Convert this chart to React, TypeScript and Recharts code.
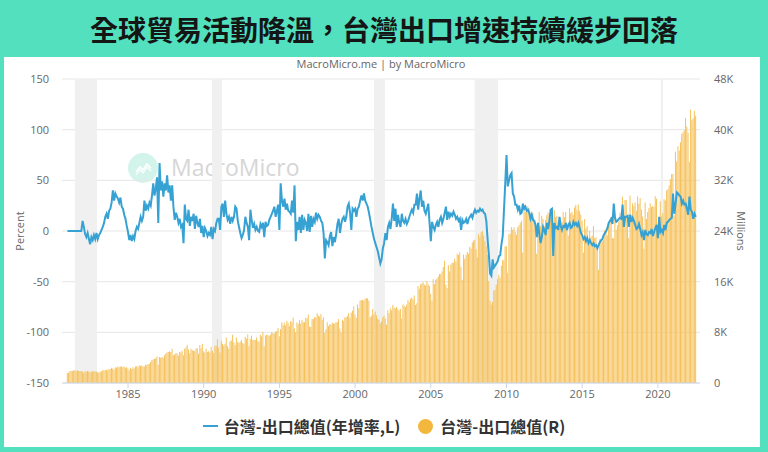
import React from 'react'
import {
  ComposedChart, Bar, Line, XAxis, YAxis, CartesianGrid, ReferenceArea,
} from 'recharts'

// monthly, first point = Jan 1981
const startYear = 1981

// 台灣-出口總值 年增率 (%), one row per year
const exportYoY: number[] = [
  0, 0, 0, 0, 0, 0, 0, 0, 0, 0, 0, 0, // 1981
  10, 4, -3, -6, -2, -8, -13, -6, -9, -4, -8, -2,
  -8, -4, -2, 1, 4, 8, 14, 17, 12, 20, 22, 28,
  40, 30, 37, 34, 32, 28, 33, 24, 22, 16, 12, 5,
  -1, -9, -4, -10, -5, -8, 0, 4, 2, 8, 14, 10, // 1985
  14, 30, 20, 25, 22, 28, 25, 35, 47, 35, 42, 53,
  8, 67, 40, 49, 34, 47, 40, 55, 38, 45, 30, 45,
  24, 11, 18, 14, 8, 12, 4, 6, -12, 26, 12, 10,
  21, 5, 14, 10, 17, 2, 15, 8, 4, 12, -2, 5,
  -6, 3, 0, -5, -2, -4, 4, -8, 2, 0, 8, 12, // 1990
  12, 1, 24, 27, 14, 30, 17, 11, 14, 7, 14, 10,
  14, 24, 22, 10, 4, -2, -7, -4, 1, 14, 8, 4,
  -9, 21, 11, 3, 7, 1, 4, 0, -1, 7, 4, 8,
  -6, 9, 5, 6, 11, 14, 17, 20, 24, 14, 20, 26,
  1, 47, 30, 24, 32, 21, 27, 20, 19, 17, 30, 18, // 1995
  45, -10, 9, 1, 14, -2, 16, 1, 11, 8, 0, 17,
  -1, 15, 4, 12, 9, 18, 12, 16, 14, 10, 8, -2,
  -27, -9, -11, -14, -5, -1, -15, -6, -11, -3, 7, 12,
  -2, 7, 12, 14, 9, 14, 24, 27, 18, 1, 22, 20,
  22, 14, 22, 24, 30, 35, 30, 37, 30, 27, 24, 18, // 2000
  11, 4, -2, -8, -12, -16, -20, -26, -32, -28, -17, -12,
  -2, -9, 4, 8, 2, 12, 27, 10, 22, 4, 16, 8,
  4, 17, 10, 8, 12, 7, 10, 14, 18, 21, 18, 26,
  26, 37, 21, 32, 40, 24, 30, 20, 17, 22, 27, 8,
  -10, 9, 4, 1, 6, 9, 4, 11, 14, 8, 12, 18, // 2005
  24, 11, 19, 14, 17, 15, 19, 16, 12, 14, 10, 12,
  1, 11, 8, 9, 12, 7, 12, 14, 16, 13, 18, 21,
  18, 20, 19, 22, 20, 21, 18, 17, 10, -8, -23, -42,
  -44, -28, -36, -34, -32, -30, -25, -24, -13, -5, 21, 47,
  75, 44, 50, 55, 57, 37, 34, 26, 26, 21, 25, 17, // 2010
  18, 27, 22, 24, 20, 21, 18, 12, 16, 11, 10, 6,
  -6, 8, -3, -12, -6, 4, 1, -4, 8, 2, 10, 21,
  22, -25, 8, 3, 4, 1, 14, 5, 1, 5, 4, 8,
  1, 6, 8, 3, 4, 9, 6, 8, 5, 8, 3, -2,
  -4, -8, -6, -10, -7, -12, -9, -12, -14, -12, -15, -14, // 2015
  -17, -14, -11, -9, -8, -4, -2, 0, 3, 8, 10, 12,
  7, 27, 13, 9, 10, 12, 13, 12, 26, 4, 14, 14,
  15, 4, 16, 9, 13, 10, 6, 2, 3, 7, 2, -4,
  -1, -9, 1, -3, -4, -1, -2, 2, -5, -1, 3, 6,
  -7, 14, -1, 1, -2, 6, 1, 8, 9, 11, 12, 13, // 2020
  37, 17, 27, 38, 37, 35, 34, 27, 30, 26, 27, 22,
  16, 34, 21, 19, 12, 17, 14, // 2022 Jan-Jul
]

// 台灣-出口總值 (K = thousand million USD), one row per year
const exportValue: number[] = [
  1.6, 1.6, 1.9, 1.9, 1.9, 2.0, 2.0, 1.9, 2.0, 1.9, 1.9, 1.9, // 1981
  1.8, 1.6, 1.8, 1.8, 1.9, 1.8, 1.7, 1.8, 1.8, 1.9, 1.8, 1.8,
  1.7, 1.6, 1.8, 1.8, 2.0, 2.0, 2.0, 2.1, 2.0, 2.2, 2.2, 2.4,
  2.3, 2.1, 2.5, 2.4, 2.6, 2.5, 2.6, 2.6, 2.5, 2.6, 2.4, 2.5,
  2.3, 2.0, 2.4, 2.2, 2.5, 2.3, 2.6, 2.7, 2.5, 2.8, 2.7, 2.8, // 1985
  2.6, 2.6, 2.9, 2.8, 3.0, 3.0, 3.3, 3.6, 3.7, 3.8, 3.9, 4.2,
  2.9, 4.1, 4.0, 4.1, 4.0, 4.4, 4.6, 4.8, 4.9, 5.0, 4.9, 5.4,
  4.4, 4.5, 4.7, 4.7, 4.3, 4.9, 4.8, 5.1, 4.4, 5.4, 5.6, 6.0,
  5.3, 4.7, 5.4, 5.2, 5.1, 5.0, 5.5, 5.5, 4.6, 6.0, 5.5, 6.2,
  5.0, 4.8, 5.4, 4.9, 5.0, 4.8, 5.7, 5.1, 4.7, 5.9, 5.9, 6.9, // 1990
  5.6, 4.8, 6.7, 6.2, 5.9, 6.2, 7.2, 5.8, 5.4, 6.6, 6.7, 7.6,
  6.4, 6.0, 7.2, 6.5, 6.3, 6.5, 6.8, 6.3, 6.2, 7.3, 7.0, 7.7,
  5.8, 7.0, 7.5, 6.8, 6.8, 6.8, 7.2, 6.6, 6.5, 7.6, 7.4, 8.1,
  5.8, 7.5, 7.6, 7.6, 7.4, 7.6, 8.0, 7.9, 7.8, 8.1, 8.2, 8.7,
  7.4, 8.5, 9.6, 9.1, 9.5, 9.1, 9.8, 9.5, 9.0, 9.8, 9.6, 10.3, // 1995
  8.6, 8.0, 9.6, 9.3, 9.9, 9.4, 10.0, 9.6, 9.6, 10.3, 10.2, 10.8,
  8.9, 8.9, 10.1, 10.1, 10.4, 10.4, 11.0, 10.6, 10.5, 10.9, 10.0, 10.4,
  7.9, 8.5, 9.6, 9.0, 9.3, 9.2, 9.5, 9.4, 9.4, 9.6, 9.6, 10.1,
  8.6, 8.0, 10.0, 9.8, 10.4, 10.4, 10.6, 11.0, 10.3, 11.1, 11.4, 12.1,
  10.8, 10.3, 12.4, 11.8, 13.0, 13.1, 13.1, 13.0, 13.3, 13.4, 13.4, 13.0, // 2000
  10.4, 10.6, 11.7, 10.8, 11.3, 10.7, 10.2, 10.0, 9.4, 9.7, 10.4, 10.6,
  10.2, 9.2, 11.5, 11.0, 11.8, 11.5, 12.3, 11.9, 11.8, 12.0, 11.7, 11.4,
  11.7, 10.2, 12.4, 12.2, 12.0, 12.4, 13.1, 12.8, 13.3, 13.5, 13.2, 13.8,
  12.3, 12.6, 15.3, 14.9, 15.6, 15.7, 15.9, 15.5, 15.4, 16.1, 15.6, 15.3,
  14.1, 13.0, 16.4, 15.6, 16.3, 16.5, 16.8, 17.2, 17.2, 17.6, 18.3, 19.3, // 2005
  15.5, 15.0, 18.6, 17.6, 18.7, 19.0, 19.0, 19.6, 19.2, 20.4, 20.2, 20.6,
  18.3, 16.3, 20.3, 19.6, 20.2, 20.7, 20.4, 21.5, 21.2, 22.2, 22.5, 22.6,
  21.1, 19.8, 23.5, 23.0, 23.8, 24.0, 23.3, 22.4, 21.6, 20.2, 16.1, 13.0,
  12.4, 12.8, 14.6, 14.7, 15.5, 16.4, 17.1, 16.6, 18.5, 19.4, 19.4, 21.6,
  21.6, 17.4, 23.5, 23.6, 24.6, 24.2, 24.6, 23.8, 23.4, 24.6, 24.9, 25.3, // 2010
  25.6, 20.6, 28.1, 27.0, 27.5, 27.9, 27.6, 26.8, 26.4, 26.8, 25.4, 25.2,
  20.4, 24.0, 27.0, 24.8, 26.4, 25.9, 24.8, 25.7, 26.5, 26.9, 25.6, 26.0,
  26.2, 19.9, 27.3, 26.2, 26.4, 25.5, 26.2, 25.8, 25.4, 27.0, 26.2, 27.0,
  24.6, 23.3, 27.6, 26.8, 27.0, 26.5, 27.7, 28.1, 27.3, 28.2, 27.1, 26.6,
  25.6, 20.6, 25.9, 24.4, 24.8, 22.6, 24.0, 23.0, 23.3, 24.8, 22.9, 23.0, // 2015
  21.4, 17.9, 22.7, 22.3, 22.4, 22.6, 24.1, 23.8, 23.3, 25.2, 25.4, 26.2,
  22.9, 22.8, 26.0, 24.2, 24.9, 25.4, 26.9, 26.3, 29.4, 26.0, 28.9, 28.9,
  26.4, 22.9, 29.6, 26.5, 28.4, 27.9, 28.5, 27.2, 29.5, 28.3, 29.2, 27.4,
  26.3, 21.2, 28.5, 25.9, 27.0, 27.6, 28.4, 27.8, 28.0, 27.8, 29.5, 29.1,
  24.1, 25.8, 28.7, 26.3, 26.8, 29.0, 28.8, 30.4, 30.6, 31.2, 32.2, 33.0, // 2020
  33.0, 26.5, 36.5, 35.0, 37.4, 36.7, 38.0, 39.3, 39.6, 39.9, 41.9, 40.5,
  39.5, 34.9, 43.2, 41.5, 41.8, 43.0, 42.2, // 2022 Jan-Jul
]

const yearTicks = [1985, 1990, 1995, 2000, 2005, 2010, 2015, 2020]
const percentTicks = [-150, -100, -50, 0, 50, 100, 150]
const valueTicks = [0, 8, 16, 24, 32, 40, 48]

// shaded recession bands (decimal years)
const recessions: [number, number][] = [
  [1981.5, 1982.95],
  [1990.55, 1991.2],
  [2001.25, 2001.97],
  [2007.9, 2009.45],
  [2020.2, 2020.33],
]

const TEAL = '#52e0bf'
const BLUE = '#36a1d3'
const GOLD = '#f6c25c'
const FONT = '"Open Sans", "Noto Sans CJK TC", sans-serif'
const CJK = '"Noto Sans CJK TC", "Open Sans", sans-serif'

const rows = exportValue.map((v, i) => ({
  t: startYear + i / 12,
  value: v,
  yoy: exportYoY[i],
}))

const axisTick = { fontSize: 11, fill: '#666666', fontFamily: FONT }

export default function App() {
  return (
    <div style={{ position: 'relative', width: 768, height: 452, background: TEAL, overflow: 'hidden' }}>
      <style>{'body{margin:0}'}</style>

      <div
        style={{
          position: 'absolute', left: 0, top: 0, width: 768, height: 57,
          display: 'flex', alignItems: 'center', justifyContent: 'center',
          fontFamily: CJK, fontWeight: 700, fontSize: 28, color: '#151515',
          letterSpacing: 0,
        }}
      >
        全球貿易活動降溫，台灣出口增速持續緩步回落
      </div>

      <div style={{ position: 'absolute', left: 4, top: 57, width: 756, height: 390, background: '#ffffff' }} />

      <div
        style={{
          position: 'absolute', left: 0, top: 56, width: 762, textAlign: 'center',
          fontFamily: FONT, fontSize: 11, color: '#666666',
        }}
      >
        MacroMicro.me | by MacroMicro
      </div>

      {/* watermark */}
      <div style={{ position: 'absolute', left: 128, top: 153, width: 30, height: 30, borderRadius: 15, background: '#d3f4eb' }}>
        <svg width={30} height={30}>
          <polyline points="8,19 12,14 15,17 19,11 23,15" fill="none" stroke="#ffffff" strokeWidth={1.6} />
          <polyline points="8,22 12,17 15,20 19,14 23,18" fill="none" stroke="#ffffff" strokeWidth={1.2} />
        </svg>
      </div>
      <div
        style={{
          position: 'absolute', left: 171, top: 152, fontFamily: FONT, fontSize: 23,
          color: '#d6d6d6', lineHeight: '30px',
        }}
      >
        MacroMicro
      </div>

      <div style={{ position: 'absolute', left: 0, top: 0 }}>
        <ComposedChart
          width={768}
          height={452}
          data={rows}
          margin={{ top: 79, right: 28, bottom: 39, left: 12 }}
        >
          <CartesianGrid yAxisId="left" vertical={false} stroke="#e6e6e6" />
          {recessions.map(([a, b], i) => (
            <ReferenceArea
              key={i}
              yAxisId="left"
              x1={a}
              x2={b}
              y1={-150}
              y2={150}
              fill="#f0f0f0"
              fillOpacity={1}
              stroke="none"
            />
          ))}
          <XAxis
            dataKey="t"
            type="number"
            domain={[1980.64, 2022.78]}
            ticks={yearTicks}
            allowDataOverflow
            height={30}
            tick={axisTick}
            tickSize={5}
            tickMargin={2}
            stroke="#ccd6eb"
          />
          <YAxis
            yAxisId="left"
            orientation="left"
            domain={[-150, 150]}
            ticks={percentTicks}
            width={50}
            axisLine={false}
            tickLine={false}
            tickSize={0}
            tickMargin={13}
            tick={axisTick}
          />
          <YAxis
            yAxisId="right"
            orientation="right"
            domain={[0, 48]}
            ticks={valueTicks}
            width={40}
            axisLine={false}
            tickLine={false}
            tickSize={0}
            tickMargin={14}
            tick={{ ...axisTick, textAnchor: 'start' }}
            tickFormatter={(v) => (v === 0 ? '0' : `${v}K`)}
          />
          <Bar
            yAxisId="right"
            dataKey="value"
            fill={GOLD}
            barSize={1}
            isAnimationActive={false}
          />
          <Line
            yAxisId="left"
            type="linear"
            dataKey="yoy"
            stroke={BLUE}
            strokeWidth={2}
            dot={false}
            isAnimationActive={false}
          />
        </ComposedChart>
      </div>

      {/* axis titles */}
      <div
        style={{
          position: 'absolute', left: 19, top: 231, transform: 'translate(-50%, -50%) rotate(-90deg)',
          fontFamily: FONT, fontSize: 11, color: '#666666', whiteSpace: 'nowrap',
        }}
      >
        Percent
      </div>
      <div
        style={{
          position: 'absolute', left: 741, top: 231, transform: 'translate(-50%, -50%) rotate(90deg)',
          fontFamily: FONT, fontSize: 11, color: '#666666', whiteSpace: 'nowrap',
        }}
      >
        Millions
      </div>

      {/* legend */}
      <div
        style={{
          position: 'absolute', left: 0, top: 414, width: 768, height: 24,
          display: 'flex', alignItems: 'center', justifyContent: 'center',
          fontFamily: CJK, fontWeight: 700, fontSize: 16, color: '#333333',
        }}
      >
        <span style={{ display: 'inline-block', width: 15, height: 2, background: BLUE, marginRight: 6 }} />
        <span>台灣-出口總值(年增率,L)</span>
        <span style={{ display: 'inline-block', width: 15, height: 15, borderRadius: 8, background: '#f3b73d', marginLeft: 18, marginRight: 7 }} />
        <span>台灣-出口總值(R)</span>
      </div>
    </div>
  )
}
